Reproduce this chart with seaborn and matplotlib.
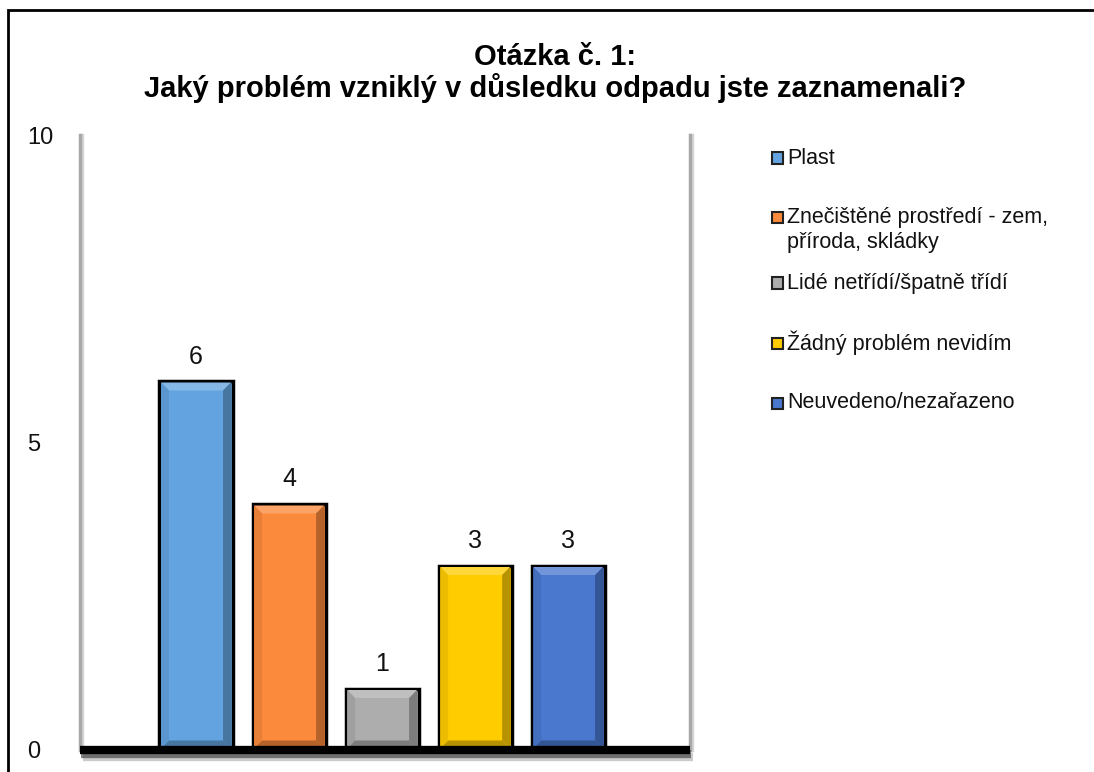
import matplotlib
matplotlib.use("Agg")
import matplotlib.pyplot as plt
import matplotlib.patheffects as pe
from matplotlib.patches import Rectangle, Polygon
from matplotlib.transforms import IdentityTransform
import matplotlib.colors as mcolors
import numpy as np
import seaborn as sns
import pandas as pd

categories = ["Plast", "Znečištěné prostředí - zem,\npříroda, skládky",
              "Lidé netřídí/špatně třídí", "Žádný problém nevidím",
              "Neuvedeno/nezařazeno"]
values = [6, 4, 1, 3, 3]
colors = ["#63A4E0", "#FB8A3C", "#ADADAD", "#FFCC00", "#4A78CE"]
yticks = [0, 5, 10]
title = "Otázka č. 1:\nJaký problém vzniklý v důsledku odpadu jste zaznamenali?"

sns.set_theme(style="white")
plt.rcParams['font.family'] = ['Liberation Sans', 'DejaVu Sans']

W, H = 1094, 772
fig = plt.figure(figsize=(W / 100, H / 100), dpi=100)
fig.patch.set_facecolor("white")

def fx(px):
    return px / W

def fy(py):
    return 1 - py / H

ax = fig.add_axes([fx(80), fy(750), fx(690) - fx(80), fy(135) - fy(750)])

df = pd.DataFrame({"cat": categories, "val": values})
sns.barplot(data=df, x="cat", y="val", hue="cat", palette=colors, legend=False,
            width=0.785, edgecolor="black", linewidth=2.5, saturation=1, ax=ax)

for c in ax.containers:
    ax.bar_label(c, labels=[f"{v:g}" for v in c.datavalues], padding=9,
                 fontsize=18, color="#111111")

ax.set_xlim(-1.247, 5.31)
ax.set_ylim(0, 10)
ax.set_yticks(yticks)
ax.set_yticklabels([str(t) for t in yticks], ha="left")
ax.tick_params(axis="y", length=0, pad=38, labelsize=17, labelcolor="#111111")
ax.set_xticks([])
ax.set_xlabel("")
ax.set_ylabel("")
ax.set_facecolor("white")

ax.spines["top"].set_visible(False)
for s in ["left", "right"]:
    ax.spines[s].set_color("#A8A8A8")
    ax.spines[s].set_linewidth(2.5)
    ax.spines[s].set_path_effects([pe.SimpleLineShadow(offset=(1.5, 0), shadow_color="#cccccc", alpha=0.8), pe.Normal()])
ax.spines["bottom"].set_color("black")
ax.spines["bottom"].set_linewidth(6)
ax.spines["bottom"].set_capstyle("butt")
ax.spines["bottom"].set_path_effects([
    pe.SimpleLineShadow(offset=(2, -5), shadow_color="#999999", alpha=0.5),
    pe.SimpleLineShadow(offset=(1, -3), shadow_color="#333333", alpha=0.6),
    pe.Normal()])

# bevel shading derived from the bars drawn by seaborn
fig.canvas.draw()
b = 8
for patch in ax.patches:
    bb = patch.get_window_extent()
    x0, y0, x1, y1 = bb.x0 + 1.5, bb.y0 + 1.5, bb.x1 - 1.5, bb.y1 - 1.5
    base = np.array(mcolors.to_rgb(patch.get_facecolor()))
    light = tuple(base + (1 - base) * 0.22)
    dark = tuple(base * 0.72)
    mid = tuple(base * 0.92)
    polys = [
        ([(x0, y1), (x1, y1), (x1 - b, y1 - b), (x0 + b, y1 - b)], light),
        ([(x1, y1), (x1, y0), (x1 - b, y0 + b), (x1 - b, y1 - b)], dark),
        ([(x0, y0), (x1, y0), (x1 - b, y0 + b), (x0 + b, y0 + b)], dark),
        ([(x0, y0), (x0, y1), (x0 + b, y1 - b), (x0 + b, y0 + b)], mid),
    ]
    for pts, col in polys:
        ax.add_patch(Polygon(pts, closed=True, facecolor=col, edgecolor="none",
                             transform=IdentityTransform(), zorder=patch.get_zorder() + 0.1,
                             clip_on=False))

fig.text(fx(555), fy(73), title, ha="center", va="center", fontsize=21,
         fontweight="bold", color="black", linespacing=1.1)

# legend
leg_y = [158, 218, 283, 343, 403]
for lab, col, y in zip(categories, colors, leg_y):
    fig.patches.append(Rectangle((fx(772), fy(y + 5.5)), fx(11), 11 / H,
                                 facecolor=col, edgecolor="#222222", linewidth=1.5,
                                 transform=fig.transFigure, figure=fig))
    if "\n" in lab:
        fig.text(fx(787), fy(y - 11), lab, ha="left", va="top", fontsize=15.5,
                 color="#111111", linespacing=1.25)
    else:
        fig.text(fx(787), fy(y), lab, ha="left", va="center", fontsize=15.5,
                 color="#111111")

# outer border
fig.patches.append(Rectangle((fx(8), -0.1), 1.2, fy(10) + 0.1, fill=False,
                             edgecolor="black", linewidth=2,
                             transform=fig.transFigure, figure=fig))

fig.savefig("out.png", dpi=100, facecolor="white")
